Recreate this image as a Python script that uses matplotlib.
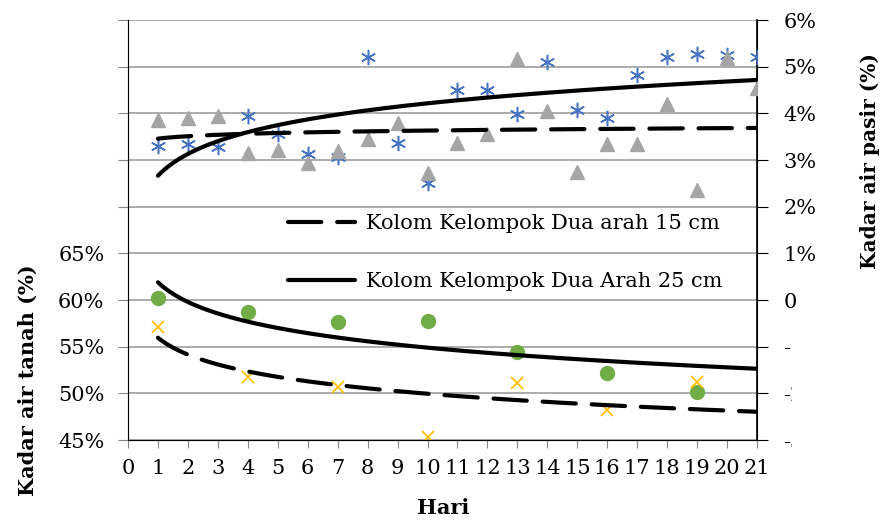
import numpy as np
import matplotlib.pyplot as plt
from matplotlib.ticker import FixedLocator, FuncFormatter
from matplotlib.transforms import Bbox

# Data (hari ke-)
hari_pasir = np.arange(1, 22)
pasir_25 = [3.31, 3.34, 3.28, 3.95, 3.55, 3.12, 3.06, 5.21, 3.37, 2.51, 4.50,
            4.51, 3.98, 5.11, 4.07, 3.90, 4.82, 5.20, 5.28, 5.24, 5.20]
pasir_15 = [3.86, 3.91, 3.94, 3.15, 3.21, 2.94, 3.20, 3.46, 3.79, 2.73, 3.36,
            3.56, 5.17, 4.04, 2.74, 3.34, 3.34, 4.20, 2.36, 5.18, 4.55]

hari_tanah = np.array([1, 4, 7, 10, 13, 16, 19])
tanah_25 = [60.2, 58.75, 57.6, 57.7, 54.45, 52.14, 50.1]
tanah_15 = [57.14, 51.79, 50.66, 45.27, 51.12, 48.2, 51.25]

label_15 = 'Kolom Kelompok Dua arah 15 cm'
label_25 = 'Kolom Kelompok Dua Arah 25 cm'

plt.rcParams['font.family'] = ['DejaVu Serif']
plt.rcParams['axes.unicode_minus'] = False
FS = 15


def log_trend(x, y):
    # garis tren logaritmik seperti di Excel
    b, a = np.polyfit(np.log(x), y, 1)
    xs = np.linspace(1, 21, 200)
    return xs, a + b * np.log(xs)


fig = plt.figure(figsize=(8.84, 5.2), dpi=100)
ax = fig.add_axes([128 / 884, 80 / 520, 629 / 884, 420 / 520])
ax2 = ax.twinx()

dash = (8.0, 3.8)

# kadar air tanah (sumbu kiri)
ax.plot(hari_tanah, tanah_25, 'o', color='#70AD47', ms=10, zorder=3)
ax.plot(hari_tanah, tanah_15, 'x', color='#FFC000', ms=9, mew=1.3, zorder=3)
xs, ys = log_trend(hari_tanah, tanah_25)
ax.plot(xs, ys, color='black', lw=3, solid_capstyle='round', zorder=4)
xs, ys = log_trend(hari_tanah, tanah_15)
ax.plot(xs, ys, color='black', lw=3, dashes=dash, dash_capstyle='round', zorder=4)

# kadar air pasir (sumbu kanan)
ax2.plot(hari_pasir, pasir_25, marker=(6, 2, 0), ls='none', color='#4472C4',
         ms=11, mew=1.1, zorder=3)
ax2.plot(hari_pasir, pasir_15, '^', color='#A5A5A5', ms=10, zorder=3)
xs, ys = log_trend(hari_pasir, pasir_25)
l25, = ax2.plot(xs, ys, color='black', lw=3, solid_capstyle='round', zorder=4,
                label=label_25)
xs, ys = log_trend(hari_pasir, pasir_15)
l15, = ax2.plot(xs, ys, color='black', lw=3, dashes=dash, dash_capstyle='round',
                zorder=4, label=label_15)

ax.set_xlim(0, 21)
ax.set_ylim(45, 90)
ax2.set_ylim(-3, 6)

ax.set_xticks(range(0, 22))
ax.yaxis.set_major_locator(FixedLocator(np.arange(45, 91, 5)))
ax.yaxis.set_major_formatter(FuncFormatter(lambda v, p: f'{v:.0f}%' if v <= 65 else ''))
ax.grid(axis='y', color='#A6A6A6', lw=1.3)
ax.set_axisbelow(True)

r_ticks = np.arange(-3, 7)
ax2.yaxis.set_major_locator(FixedLocator(r_ticks))
ax2.yaxis.set_major_formatter(FuncFormatter(lambda v, p: '0' if v == 0 else f'{v:.0f}%'))

ax.spines['top'].set_visible(False)
ax2.spines['top'].set_visible(False)
ax.spines['left'].set_color('#868686')
ax.spines['bottom'].set_color('#868686')
ax2.spines['right'].set_color('black')
ax2.spines['right'].set_linewidth(1.2)

ax.tick_params(axis='x', length=6, color='#868686', labelsize=FS, pad=8)
ax.tick_params(axis='y', length=7, color='#868686', labelsize=FS, pad=10)
ax2.tick_params(axis='y', length=8, color='black', labelsize=FS, pad=11)

# label minus di kanan terpotong seperti aslinya
clip = Bbox.from_extents(0, 0, 792, 520)
for v, t in zip(r_ticks, ax2.yaxis.get_major_ticks()):
    if v < 0:
        t.label2.set_clip_box(clip)
        t.label2.set_clip_on(True)

fig.text(28 / 884, 1 - 380 / 520, 'Kadar air tanah (%)', rotation=90,
         ha='center', va='center', fontsize=15, fontweight='bold')
fig.text(870 / 884, 1 - 161 / 520, 'Kadar air pasir (%)', rotation=90,
         ha='center', va='center', fontsize=14.5, fontweight='bold')
fig.text(443 / 884, 1 - 508 / 520, 'Hari', ha='center', va='center',
         fontsize=15, fontweight='bold')

leg = ax2.legend(handles=[l15, l25], loc='upper left',
                 bbox_to_anchor=(278 / 884, 1 - 204 / 520),
                 bbox_transform=fig.transFigure, frameon=False, fontsize=FS,
                 handlelength=3.2, handletextpad=0.5, labelspacing=1.85,
                 borderpad=0)

fig.savefig('out.png', dpi=100)
